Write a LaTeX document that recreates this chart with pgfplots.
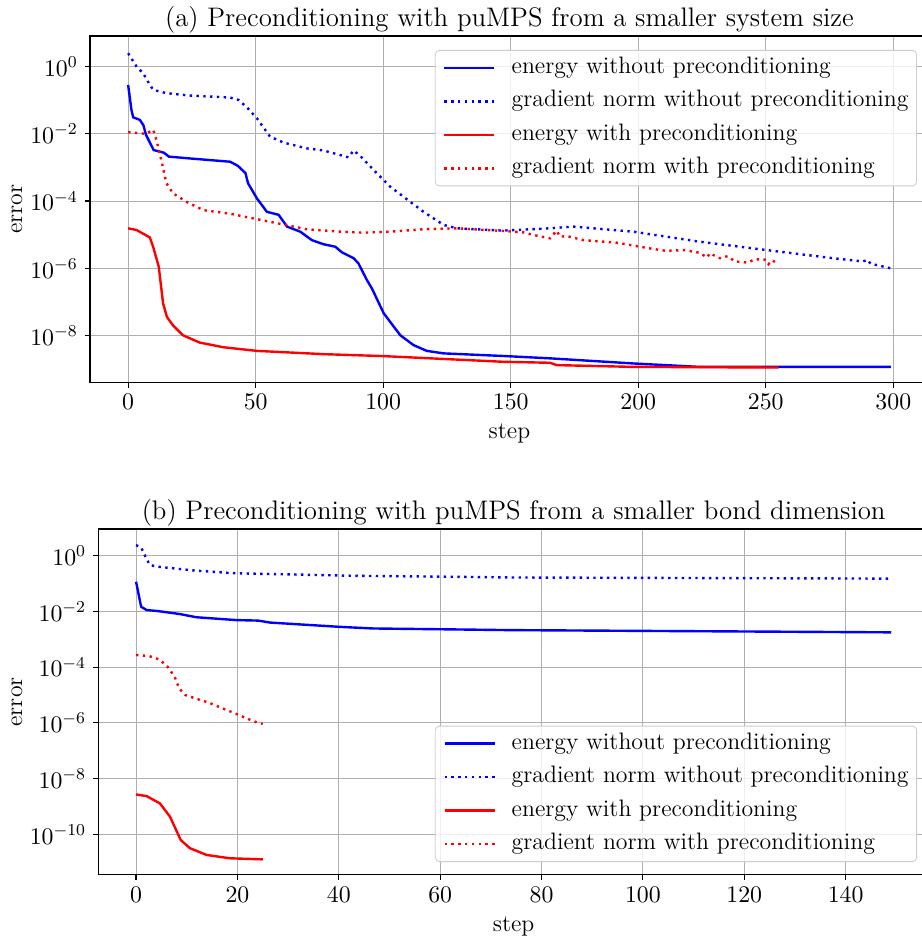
\RequirePackage{fix-cm}
\documentclass[border=0pt]{standalone}
\usepackage{pgfplots}
\pgfplotsset{compat=1.18}
\pgfplotsset{
  mystyle/.style={
    scale only axis,
    font=\fontsize{11.9}{14.2}\selectfont,
    tick label style={font=\fontsize{11.9}{14.2}\selectfont},
    grid=major,
    major grid style={color=black!31, line width=0.55pt},
    axis line style={line width=0.6pt},
    tick align=outside,
    major tick length=2.6pt,
    every tick/.style={black, line width=0.6pt},
    xtick pos=left, ytick pos=left,
    yminorticks=false,
    legend cell align=left,
    legend image code/.code={\draw[##1] (0pt,0pt) -- (25pt,0pt);},
    legend style={draw=black!20, rounded corners=2pt, fill=white, fill opacity=0.8,
      text opacity=1, inner xsep=4pt, inner ysep=3pt, row sep=5.25pt, column sep=8pt,
      nodes={inner sep=0pt, text height=8.5pt, text depth=3pt},
      font=\fontsize{11.9}{14.2}\selectfont},
    every axis title shift=0pt,
    title style={font=\fontsize{13.4}{16}\selectfont, at={(axis description cs:0.5,1)}, anchor=base, yshift=5pt},
    xlabel style={at={(axis description cs:0.5,-0.149)}, anchor=center},
  },
  bl/.style={blue, line width=1.2pt},
  bd/.style={blue, line width=1.2pt, dash pattern=on 1.2pt off 2.2pt},
  rl/.style={red, line width=1.2pt},
  rd/.style={red, line width=1.2pt, dash pattern=on 1.2pt off 2.2pt},
}
\begin{document}
\begin{tikzpicture}
% ---------------- top axis ----------------
\begin{axis}[ymode=log, mystyle,
  at={(45pt,278.35pt)}, anchor=south west,
  width=419.45pt, height=173.15pt,
  xmin=-14.95, xmax=313.95, ymin=4.07e-10, ymax=8.13,
  xtick={0,50,...,300},
  ytick={1e0,1e-2,1e-4,1e-6,1e-8},
  title={(a) Preconditioning with puMPS from a smaller system size},
  xlabel={step}, ylabel={error},
  ylabel style={at={(axis description cs:-0.087,0.5)}, anchor=center},
  legend style={at={(0.9858,0.9596)}, anchor=north east},
]
\addplot[bl] coordinates {
(0,0.285) (1.3,5.1e-2) (2,3.1e-2) (4.6,2.6e-2) (6,1.8e-2) (7,9.3e-3) (10,3.3e-3)
(14,2.75e-3) (16,2.1e-3) (24,1.86e-3) (40,1.48e-3) (43,1.12e-3) (46,6.8e-4) (47,3.4e-4)
(50.5,1.2e-4) (54.4,4.8e-5) (59,3.9e-5) (62.3,1.74e-5) (67.5,1.23e-5) (72,6.9e-6)
(76.6,5.2e-6) (81.2,4.4e-6) (83.8,3.0e-6) (88.4,2.0e-6) (90.3,1.4e-6) (93.6,4.5e-7)
(95.6,2.5e-7) (100.2,4.6e-8) (106.7,1.02e-8) (111.9,5.2e-9) (117.1,3.5e-9) (123.7,2.95e-9)
(148,2.45e-9) (165.4,2.1e-9) (198,1.48e-9) (224,1.17e-9) (299,1.17e-9)
};
\addlegendentry{energy without preconditioning}
\addplot[bd] coordinates {
(0,2.5) (3.3,1.0) (5.9,0.63) (7.8,0.355) (9.8,0.204) (15,0.162) (24,0.138) (40,0.12)
(43.3,0.102) (46.5,6.2e-2) (50.5,2.9e-2) (55.6,8.3e-3) (60.9,5.5e-3) (70,3.7e-3)
(76.6,3.2e-3) (86.4,2.0e-3) (88.4,3.2e-3) (91,2.2e-3) (96.2,8.5e-4) (102.7,2.7e-4)
(110.6,9.5e-5) (115.8,4.8e-5) (123.7,1.95e-5) (128.9,1.55e-5) (147,1.32e-5)
(165.4,1.55e-5) (174.5,1.74e-5) (198,1.23e-5) (224,6.2e-6) (250.2,3.5e-6)
(276.3,2.0e-6) (288,1.6e-6) (290,1.78e-6) (291,1.38e-6) (299,1.0e-6)
};
\addlegendentry{gradient norm without preconditioning}
\addplot[rl] coordinates {
(0,1.55e-5) (3.3,1.38e-5) (8.5,8.3e-6) (9.8,4.4e-6) (12,1.12e-6) (13.7,9.1e-8)
(15.2,3.6e-8) (17.6,2.0e-8) (21.5,1.02e-8) (28,6.2e-9) (37.2,4.5e-9) (50.5,3.5e-9)
(76.6,2.8e-9) (100,2.45e-9) (147,1.66e-9) (165.4,1.55e-9) (168,1.32e-9) (198,1.17e-9)
(255,1.12e-9)
};
\addlegendentry{energy with preconditioning}
\addplot[rd] coordinates {
(0,1.12e-2) (7,1.0e-2) (9.8,1.32e-2) (11.1,6.6e-3) (13,1.66e-3) (15,3.4e-4)
(17.6,1.7e-4) (22.9,9.5e-5) (29.4,5.4e-5) (40,4.2e-5) (50.5,2.9e-5) (58.3,2.2e-5)
(70,1.45e-5) (83.2,1.23e-5) (92.3,1.15e-5) (102.7,1.23e-5) (115.8,1.45e-5)
(128.9,1.55e-5) (147,1.29e-5) (155,1.17e-5) (158.9,9.8e-6) (165.4,7.8e-6)
(168,1.32e-5) (169.3,8.7e-6) (172,9.1e-6) (178.5,6.9e-6) (191.5,5.8e-6)
(204.6,3.9e-6) (211,3.3e-6) (218,3.5e-6) (224,2.9e-6) (227,2.1e-6) (228,2.8e-6)
(232,2.0e-6) (235,2.3e-6) (238,1.6e-6) (243,1.48e-6) (245.6,1.86e-6) (249.5,1.82e-6)
(251,1.32e-6) (252.5,1.74e-6) (255,1.32e-6)
};
\addlegendentry{gradient norm with preconditioning}
\end{axis}
% ---------------- bottom axis ----------------
\begin{axis}[ymode=log, mystyle,
  at={(49.15pt,32.15pt)}, anchor=south west,
  width=415.35pt, height=172.85pt,
  xmin=-7.45, xmax=156.45, ymin=3.55e-12, ymax=9.12,
  xtick={0,20,...,140},
  ytick={1e0,1e-2,1e-4,1e-6,1e-8,1e-10},
  title={(b) Preconditioning with puMPS from a smaller bond dimension},
  xlabel={step}, ylabel={error},
  ylabel style={at={(axis description cs:-0.098,0.5)}, anchor=center},
  legend style={at={(0.9856,0.0367)}, anchor=south east},
]
\addplot[bl] coordinates {
(0,0.117) (1,1.48e-2) (2.1,1.12e-2) (4,1.05e-2) (8.6,8.1e-3) (11.9,6.2e-3)
(19.8,4.9e-3) (24.1,4.7e-3) (26.4,4.0e-3) (40.2,2.8e-3) (46.8,2.45e-3)
(59.9,2.3e-3) (73.7,2.14e-3) (149,1.78e-3)
};
\addlegendentry{energy without preconditioning}
\addplot[bd] coordinates {
(0,2.4) (1,2.0) (1.7,1.05) (2.7,0.47) (4,0.41) (7.3,0.355) (11.9,0.29) (19.8,0.234)
(30.3,0.214) (43.4,0.19) (59.9,0.178) (73.7,0.166) (149,0.151)
};
\addlegendentry{gradient norm without preconditioning}
\addplot[rl] coordinates {
(0,2.7e-9) (2.1,2.35e-9) (4.7,1.29e-9) (6.7,4.3e-10) (8.8,6.3e-11) (10.6,3.2e-11)
(13.9,1.82e-11) (18.5,1.38e-11) (25,1.26e-11)
};
\addlegendentry{energy with preconditioning}
\addplot[rd] coordinates {
(0,2.75e-4) (2.6,2.5e-4) (4.6,1.9e-4) (6.2,1.05e-4) (7.6,4.6e-5) (8.5,1.74e-5)
(9.7,1.0e-5) (12.2,7.1e-6) (14.5,5.2e-6) (17.1,3.3e-6) (19.8,2.1e-6) (21.8,1.45e-6)
(24.4,9.5e-7) (25,9.3e-7)
};
\addlegendentry{gradient norm with preconditioning}
\end{axis}
\pgfresetboundingbox
\path[use as bounding box] (0pt,0pt) rectangle (461pt,469.5pt);
\end{tikzpicture}
\end{document}
